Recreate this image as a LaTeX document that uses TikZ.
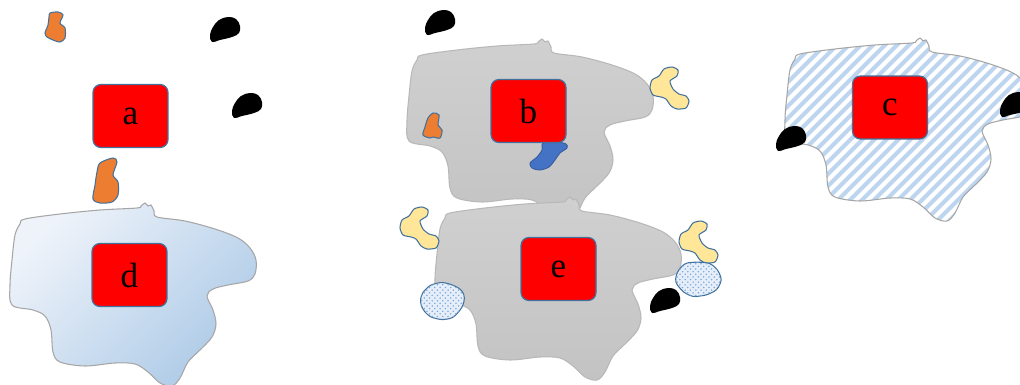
\documentclass[tikz,border=0pt]{standalone}
\usepackage{fontspec}
\setmainfont{Liberation Serif}
\usetikzlibrary{patterns}

\definecolor{boxred}{HTML}{FF0000}
\definecolor{boxline}{HTML}{41719C}
\definecolor{orangefill}{HTML}{ED7D31}
\definecolor{bluefill}{HTML}{4472C4}
\definecolor{yellowfill}{HTML}{FFE699}
\definecolor{grayA}{HTML}{D0D0D0}
\definecolor{grayB}{HTML}{C3C3C3}
\definecolor{grayline}{HTML}{B8B8B8}
\definecolor{cellline}{HTML}{A6A6A6}
\definecolor{stripe}{HTML}{BDD5EE}
\definecolor{iceA}{HTML}{EEF3FA}
\definecolor{iceB}{HTML}{ADCAE7}
\definecolor{dotbg}{HTML}{E6EFF9}
\definecolor{dotfg}{HTML}{7FAADB}

% outline of the large cell, in pixel-like units
\newcommand{\cellpath}{plot[smooth cycle, tension=0.55] coordinates {
 (25,219) (60,214) (100,210) (137,208) (141,206) (145,203) (148,206) (151,205)
 (154,211) (157,217) (185,221) (215,229) (238,238) (250,248) (256,260) (255,274)
 (248,281) (228,285) (213,289) (207,296) (213,310) (216,324) (212,337) (200,350)
 (188,362) (180,378) (172,386) (160,383) (148,372) (135,364) (115,363) (85,366)
 (60,362) (53,352) (51,330) (45,316) (33,310) (12,305) (10,285) (12,260)
 (15,235) (20,224)}}

% small black seed
\newcommand{\seedpath}{plot[smooth cycle, tension=0.65] coordinates {
 (2,25) (0,18) (3,10) (9,3) (18,0) (26,2) (30,9) (29,16) (22,20) (10,23)}}

% yellow hook
\newcommand{\hookpath}{plot[smooth cycle, tension=0.4] coordinates {
 (2,13) (9,9) (14,2) (22,0) (28,3) (27,9) (20,14) (23,22) (29,27) (36,29)
 (39,34) (36,41) (27,42) (21,39) (16,32) (11,30) (3,28) (0,21)}}

\tikzset{
  labelbox/.style={draw=boxline, line width=0.7pt, fill=boxred, rounded corners=4.5pt,
    minimum width=1.5cm, minimum height=1.26cm, inner sep=0pt,
    font=\fontsize{20}{24}\selectfont},
  smallshape/.style={draw=boxline, line width=0.6pt},
  seed/.pic={\fill[black] \seedpath;},
  hook/.pic={\draw[smallshape, fill=yellowfill] \hookpath;},
  dotted cell/.style={smallshape, fill=dotbg, rounded corners=2pt,
    postaction={pattern=crosshatch dots, pattern color=dotfg}},
  graycell/.style={draw=grayline, line width=0.6pt, top color=grayA, bottom color=grayB},
}

\begin{document}
\begin{tikzpicture}[x=0.02cm, y=-0.02cm]
\path[fill=white, use as bounding box] (0,0) rectangle (1020,385);

% ---- left group: cell d with loose parts above ----
\shade[draw=cellline, line width=0.6pt, top color=iceA, bottom color=iceB, shading angle=45] \cellpath;
\draw[smallshape, fill=orangefill] plot[smooth cycle, tension=0.5] coordinates {
 (50,13) (58,12) (63,15) (60,23) (65,28) (65,38) (60,42) (53,40) (47,37) (45,33) (48,25) (49,17)};
\draw[smallshape, fill=orangefill] plot[smooth cycle, tension=0.5] coordinates {
 (100,163) (113,158) (117,162) (113,175) (118,182) (118,195) (112,202) (100,203) (93,199) (95,185) (97,172)};
\pic at (210,17) {seed};
\pic at (232,93) {seed};

\node[labelbox] (a) at (130.5,116) {a};
\node[labelbox] (d) at (129.5,275) {d};

% ---- middle group: cells b and e ----
\pic at (425,10) {seed};
\begin{scope}[shift={(397,-164)}]
  \path[graycell] \cellpath;
\end{scope}
\draw[smallshape, fill=orangefill] plot[smooth cycle, tension=0.5] coordinates {
 (433,113) (439,115) (438,125) (442,130) (440,138) (433,137) (430,138) (423,135) (425,127) (428,118)};
\draw[draw=bluefill!80!black, line width=0.5pt, fill=bluefill] plot[smooth cycle, tension=0.5] coordinates {
 (543,143) (557,142) (566,144) (567,148) (560,153) (555,160) (549,167) (540,170) (532,168) (530,163) (537,157) (542,150)};
\pic at (650,67) {hook};

\begin{scope}[shift={(425,-6)}]
  \path[graycell] \cellpath;
\end{scope}
\pic at (400,207) {hook};
\pic at (679,221) {hook};
\draw[dotted cell] (422,293) -- (430,285) -- (442,282) -- (453,285) -- (462,290) -- (465,298)
  -- (462,308) -- (453,318) -- (442,320) -- (430,317) -- (423,310) -- (420,302) -- cycle;
\draw[dotted cell] (677,272) -- (685,263) -- (697,262) -- (710,263) -- (718,270) -- (722,280)
  -- (717,290) -- (707,295) -- (693,297) -- (683,292) -- (675,282) -- cycle;
\pic at (650,288) {seed};

\node[labelbox] (b) at (528.5,111) {b};
\node[labelbox] (e) at (558.5,269) {e};

% ---- right group: striped cell c ----
\begin{scope}[shift={(775,-165)}]
  \fill[white] \cellpath;
  \begin{scope}
    \clip \cellpath;
    \foreach \s in {-200,-188,...,270}
      \draw[stripe, line width=2.3pt] (\s,400) -- (\s+200,200);
  \end{scope}
  \draw[cellline, line width=0.6pt] \cellpath;
\end{scope}
\pic at (776,126) {seed};
\pic at (1000,92) {seed};

\node[labelbox] (c) at (890,107.5) {c};
\end{tikzpicture}
\end{document}
